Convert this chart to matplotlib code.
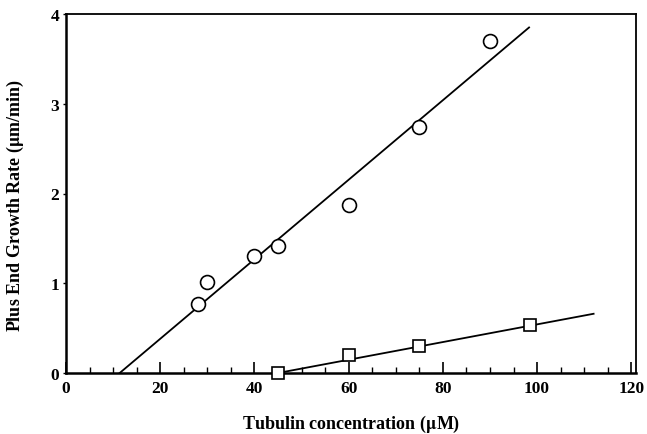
#! /usr/bin/env python

# Plotting
import matplotlib.pyplot as plt
from matplotlib.ticker import MultipleLocator

# Plus end growth rate, circles (um/min)
circle_conc = [28, 30, 40, 45, 60, 75, 90]
circle_rate = [0.77, 1.01, 1.30, 1.41, 1.87, 2.74, 3.70]

# Square points
square_conc = [45, 60, 75, 98.5]
square_rate = [0.0, 0.20, 0.30, 0.54]

# Fitted lines, read at their ends
circle_fit_x = [11.4, 98.3]
circle_fit_y = [0.0, 3.85]
square_fit_x = [45, 112]
square_fit_y = [0.0, 0.66]

plt.rcParams['font.family'] = ['Liberation Serif', 'DejaVu Serif']
plt.rcParams['font.weight'] = 'bold'
plt.rcParams['mathtext.fontset'] = 'stix'

fig = plt.figure(figsize=(6.47, 4.35), dpi=100)
ax = fig.add_axes([66 / 647, 1 - 374 / 435, 570 / 647, 359 / 435])

# Lines and markers
ax.plot(circle_fit_x, circle_fit_y, color='black', lw=1.3)
ax.plot(square_fit_x, square_fit_y, color='black', lw=1.3)
ax.plot(circle_conc, circle_rate, 'o', ms=10, mfc='white', mec='black',
        mew=1.2, ls='none')
ax.plot(square_conc, square_rate, 's', ms=9, mfc='white', mec='black',
        mew=1.2, ls='none', clip_on=False, zorder=5)

ax.set_xlim(0, 121)
ax.set_ylim(0, 4)

# X-axis: inward ticks every 5, labels every 20
ax.xaxis.set_major_locator(MultipleLocator(20))
ax.xaxis.set_minor_locator(MultipleLocator(5))
ax.tick_params(axis='x', which='major', direction='in', length=8,
               width=1.2, labelsize=12.5, pad=5)
ax.tick_params(axis='x', which='minor', direction='in', length=4.5, width=1)

# Y-axis: small outward ticks
ax.yaxis.set_major_locator(MultipleLocator(1))
ax.tick_params(axis='y', which='major', direction='out', length=2,
               width=1, labelsize=12.5, pad=3)

for side in ['left', 'bottom']:
    ax.spines[side].set_linewidth(1.8)
for side in ['top', 'right']:
    ax.spines[side].set_linewidth(1.3)

ax.set_xlabel(r'Tubulin concentration ($\mathbf{\mu}$M)', fontsize=13,
              fontweight='bold', labelpad=12)
ax.set_ylabel(r'Plus End Growth Rate ($\mathbf{\mu}$m/min)', fontsize=13,
              fontweight='bold')
# Label sits slightly below the axes centre in the reference
ax.yaxis.set_label_coords(-0.07, 0.47)

fig.savefig('out.png', dpi=100)
